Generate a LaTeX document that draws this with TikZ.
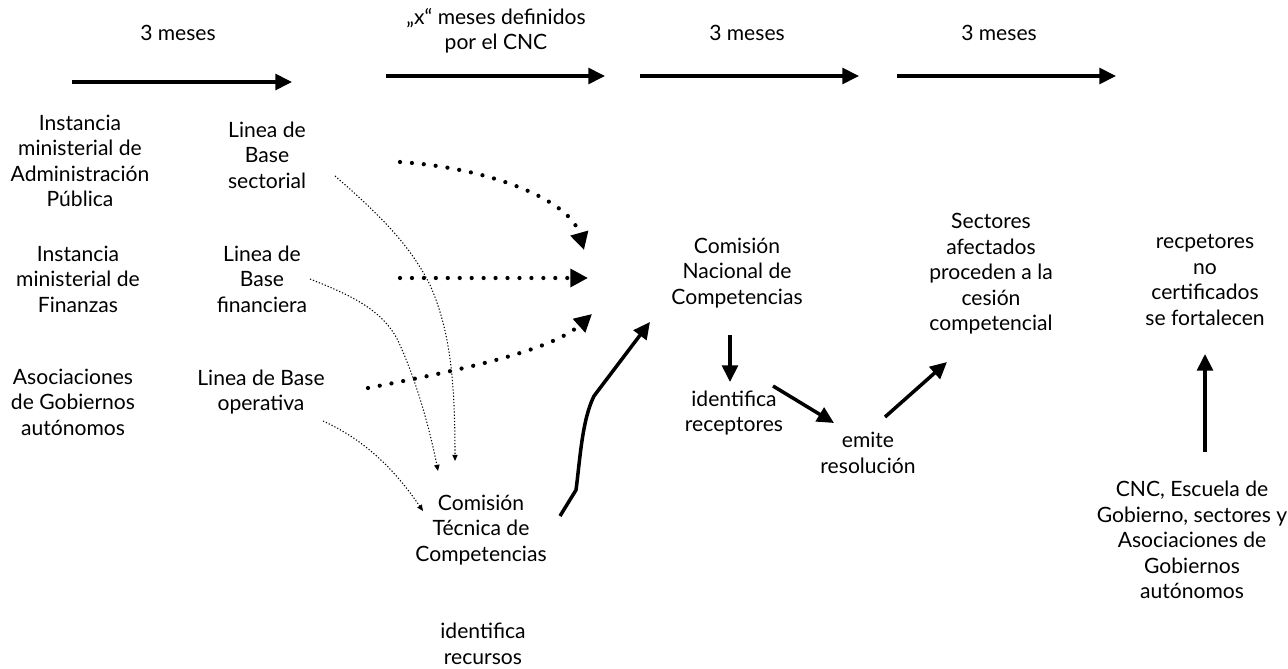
\documentclass[tikz,border=0pt]{standalone}
\usepackage{fontspec}
\setmainfont{Lato}
\usetikzlibrary{arrows.meta}
\tikzset{
  txt/.style={align=center, inner sep=0pt, font=\fontsize{12}{14.5}\selectfont},
  big/.style={line width=2pt, -{Triangle[length=9.5pt,width=9pt]}},
  bigdot/.style={line width=2.4pt, line cap=round, dash pattern=on 0pt off 6.8pt, -{Triangle[length=10pt,width=10pt]}},
  thindot/.style={line width=0.6pt, dash pattern=on 0.7pt off 1.1pt, -{Triangle[length=3.5pt,width=3pt]}}
}
\begin{document}
\begin{tikzpicture}[x=0.02cm,y=-0.02cm]
\useasboundingbox (0,0) rectangle (1288,669);

% time line
\node[txt] (t1) at (178,33) {3 meses};
\node[txt] (t2) at (496,31) {„x“ meses definidos\\por el CNC};
\node[txt] (t3) at (747,33) {3 meses};
\node[txt] (t4) at (999,33) {3 meses};
\coordinate (m1a) at (72,82);   \coordinate (m1b) at (292,82);
\coordinate (m2a) at (386,76);  \coordinate (m2b) at (605,76);
\coordinate (m3a) at (640,76);  \coordinate (m3b) at (859,76);
\coordinate (m4a) at (897,76);  \coordinate (m4b) at (1116,76);
\foreach \i in {1,...,4} \draw[big] (m\i a) -- (m\i b);

% actors
\node[txt] (adm) at (80,161) {Instancia\\ministerial de\\Administración\\Pública};
\node[txt] (fin) at (78,279) {Instancia\\ministerial de\\Finanzas};
\node[txt] (aso) at (73,402) {Asociaciones\\de Gobiernos\\autónomos};
\node[txt] (lbs) at (267,155) {Linea de\\Base\\sectorial};
\node[txt] (lbf) at (262,279) {Linea de\\Base\\financiera};
\node[txt] (lbo) at (261,392) {Linea de Base\\operativa};
\node[txt] (ctc) at (481,530) {Comisión\\Técnica de\\Competencias};
\node[txt] (idrec) at (483,644) {identifica\\recursos};
\node[txt] (cnc) at (737,273) {Comisión\\Nacional de\\Competencias};
\node[txt] (idr) at (734,413) {identifica\\receptores};
\node[txt] (emi) at (868,453) {emite\\resolución};
\node[txt] (sec) at (991,274) {Sectores\\afectados\\proceden a la\\cesión\\competencial};
\node[txt] (rec) at (1205,280) {recpetores\\no\\certificados\\se fortalecen};
\node[txt] (esc) at (1192,540) {CNC, Escuela de\\Gobierno, sectores y\\Asociaciones de\\Gobiernos\\autónomos};

% lineas de base -> CNC
\coordinate (d1a) at (400,162); \coordinate (d1b) at (584,250);
\coordinate (d2a) at (400,278); \coordinate (d2b) at (588,278);
\coordinate (d3a) at (368,388); \coordinate (d3b) at (592,314);
\draw[bigdot] (d1a) .. controls (490,168) and (570,200) .. (d1b);
\draw[bigdot] (d2a) -- (d2b);
\draw[bigdot] (d3a) .. controls (450,372) and (550,352) .. (d3b);

% lineas de base -> CTC
\coordinate (lbs-o) at (335,176); \coordinate (ctc-i1) at (455,461);
\coordinate (lbf-o) at (310,279); \coordinate (ctc-i2) at (438,471);
\coordinate (lbo-o) at (323,421); \coordinate (ctc-i3) at (423,511);
\draw[thindot] (lbs-o) .. controls (380,215) and (410,245) .. (430,285) .. controls (450,330) and (455,380) .. (ctc-i1);
\draw[thindot] (lbf-o) .. controls (350,295) and (385,310) .. (400,345) .. controls (420,390) and (432,440) .. (ctc-i2);
\draw[thindot] (lbo-o) .. controls (365,440) and (395,470) .. (ctc-i3);

% CTC -> CNC
\coordinate (ctc-o) at (560,516); \coordinate (cnc-i) at (650,322);
\draw[big] (ctc-o) -- (576,490) .. controls (580,460) and (582,420) .. (594,396) -- (cnc-i);

% CNC steps
\coordinate (cnc-o) at (730,335); \coordinate (idr-i) at (730,382);
\coordinate (idr-o) at (773,386); \coordinate (emi-i) at (834,423);
\coordinate (emi-o) at (885,417); \coordinate (sec-i) at (947,362);
\coordinate (esc-o) at (1205,452); \coordinate (rec-i) at (1205,354);
\draw[big] (cnc-o) -- (idr-i);
\draw[big] (idr-o) -- (emi-i);
\draw[big] (emi-o) -- (sec-i);
\draw[big] (esc-o) -- (rec-i);
\end{tikzpicture}
\end{document}
